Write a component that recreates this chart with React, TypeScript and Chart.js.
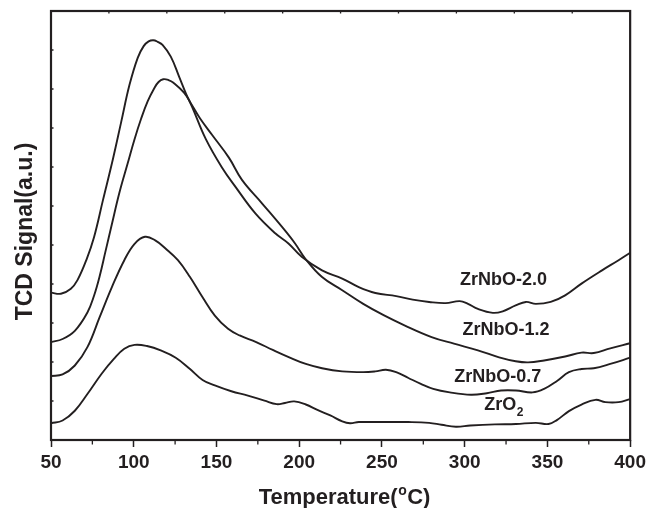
import React, { useEffect, useRef } from 'react';
import { Chart, registerables } from 'chart.js';

Chart.register(...registerables);

const FONT = '"Liberation Sans", Arial, Helvetica, sans-serif';
const INK = '#231f20';

// x-axis range and tick marks (°C)
const xRange = [50, 400];
const minorTicks = [75, 125, 175, 225, 275, 325, 375];
const topTicks = [85, 120, 155, 190, 225, 260, 295, 330, 365];
const sideTicks = [10, 20, 30, 40, 50, 60, 70, 80, 90, 100];

// axis titles
const xTitleMain = 'Temperature(';
const xTitleSup = 'o';
const xTitleEnd = 'C)';
const yTitle = 'TCD Signal(a.u.)';

// ZrNbO-2.0
const zr20T = [50, 56, 62, 66, 71.4, 76, 81.4, 87.4, 92.4, 97.4, 102.4, 106, 109, 111.8, 114.5, 117.4, 122.4, 127.4, 131.5, 135.4, 143.5, 153.4, 161.5, 173.5, 185.5, 193.5, 201.5, 213.8, 226, 236, 246, 258.6, 268.6, 278.5, 288.5, 297, 302, 308, 317, 323, 330.8, 337, 343, 352, 360.7, 370.6, 383, 393, 400];
const zr20S = [37.8, 37.5, 38.8, 41.0, 46.2, 52.0, 61.5, 72.0, 81.5, 91.0, 98.0, 101.0, 102.2, 102.5, 102.1, 101.3, 98.3, 93.2, 88.9, 85.3, 77.2, 69.8, 64.9, 58.1, 53.0, 50.4, 47.0, 43.5, 41.4, 39.2, 37.7, 36.9, 36.0, 35.4, 35.1, 35.6, 34.9, 33.6, 32.6, 33.0, 34.5, 35.4, 34.9, 35.4, 37.1, 40.1, 43.5, 46.1, 48.0];

// ZrNbO-1.2
const zr12T = [50, 57, 64.4, 72, 76, 79.4, 83, 86.6, 91.4, 96.4, 100.4, 104.4, 108.4, 112.4, 115, 117.8, 121, 124, 130.5, 135.4, 140, 147.4, 157.5, 165.4, 177.5, 189.5, 197.5, 203.5, 213.8, 226, 238.7, 251, 263.6, 280, 293.5, 308, 320.8, 330.8, 338.3, 348, 360.7, 370.6, 378, 388, 400];
const zr12S = [25.1, 25.9, 28.0, 32.7, 37.0, 42.0, 48.5, 55.0, 63.5, 71.0, 77.0, 82.3, 86.8, 90.2, 91.8, 92.5, 92.3, 91.6, 89.0, 85.7, 82.5, 78.2, 72.4, 66.7, 60.7, 54.7, 50.4, 46.6, 41.8, 38.4, 34.9, 32.0, 29.4, 26.4, 24.7, 23.0, 21.2, 20.2, 19.9, 20.4, 21.4, 22.4, 22.3, 23.5, 24.8];

// ZrNbO-0.7
const zr07T = [50, 57, 64.4, 72, 79.4, 86.8, 94.3, 100.5, 106.8, 113, 119.2, 126.7, 134, 141.6, 149, 157, 164, 174, 184, 194, 204, 213.8, 226, 238.7, 246, 252.4, 258.6, 266, 273.5, 281, 291, 303.8, 313.4, 322, 331, 341, 348, 356, 363, 370.6, 378, 388, 400];
const zr07S = [16.4, 16.8, 19.1, 23.8, 31.5, 39.2, 46.1, 50.3, 52.1, 51.2, 49.1, 46.1, 41.8, 36.6, 31.9, 28.5, 26.8, 25.1, 23.1, 21.2, 19.5, 18.4, 17.6, 17.4, 17.6, 18.0, 17.4, 15.9, 14.4, 13.1, 12.2, 11.6, 12.0, 12.7, 12.7, 12.2, 13.1, 15.2, 17.4, 18.2, 18.4, 19.5, 21.1];

// ZrO2
const zro2T = [50, 57, 64.4, 72, 80.6, 88, 94.3, 100.5, 108, 116.7, 125.4, 134, 141.6, 149, 159, 169, 179, 186.4, 191.4, 197, 204, 211, 218.8, 226, 230.7, 236, 248.7, 266, 278.5, 286, 294.7, 303.4, 318.3, 331, 343, 350.7, 355.7, 363, 370.6, 379, 385, 393, 400];
const zro2S = [4.3, 5.0, 7.5, 11.8, 17.0, 20.8, 23.4, 24.4, 24.1, 22.9, 21.1, 18.2, 15.4, 14.0, 12.5, 11.4, 10.1, 9.2, 9.5, 9.9, 9.1, 7.7, 6.3, 4.8, 4.3, 4.6, 4.6, 4.6, 4.4, 3.9, 3.4, 3.7, 4.0, 4.1, 4.4, 4.1, 5.1, 7.4, 9.1, 10.3, 9.7, 9.7, 10.5];

// curve labels (anchored in data units)
const labelTexts = ['ZrNbO-2.0', 'ZrNbO-1.2', 'ZrNbO-0.7', 'ZrO'];
const labelSubs = ['', '', '', '2'];
const labelX = [323.5, 325, 320, 321.5];
const labelY = [40.9, 28.1, 16.2, 8.9];

const toPoints = (t: number[], s: number[]) => t.map((v, i) => ({ x: v, y: s[i] }));

const decor = {
  id: 'decor',
  afterDatasetsDraw(chart: any) {
    const { ctx, chartArea: a, scales } = chart;
    const x = scales.x;
    const y = scales.y;
    ctx.save();
    ctx.strokeStyle = INK;
    ctx.lineWidth = 1.3;
    ctx.beginPath();
    for (const v of minorTicks) {
      const px = x.getPixelForValue(v);
      ctx.moveTo(px, a.bottom);
      ctx.lineTo(px, a.bottom + 4.5);
    }
    for (const v of topTicks) {
      const px = x.getPixelForValue(v);
      ctx.moveTo(px, a.top);
      ctx.lineTo(px, a.top + 2.5);
    }
    for (const v of sideTicks) {
      const py = y.getPixelForValue(v);
      ctx.moveTo(a.left, py);
      ctx.lineTo(a.left + 2.5, py);
    }
    ctx.stroke();
    ctx.lineWidth = 2.2;
    ctx.strokeRect(a.left, a.top, a.right - a.left, a.bottom - a.top);

    ctx.fillStyle = INK;
    // curve labels
    ctx.textBaseline = 'middle';
    labelTexts.forEach((t, i) => {
      const cx = x.getPixelForValue(labelX[i]);
      const cy = y.getPixelForValue(labelY[i]);
      ctx.font = `bold 18px ${FONT}`;
      ctx.textAlign = 'center';
      ctx.fillText(t, cx, cy);
      if (labelSubs[i]) {
        const w = ctx.measureText(t).width;
        ctx.font = `bold 12px ${FONT}`;
        ctx.textAlign = 'left';
        ctx.fillText(labelSubs[i], cx + w / 2 + 0.5, cy + 7);
      }
    });

    // x-axis title with superscript degree "o"
    ctx.textBaseline = 'alphabetic';
    ctx.textAlign = 'left';
    ctx.font = `bold 22px ${FONT}`;
    const w1 = ctx.measureText(xTitleMain).width;
    const w3 = ctx.measureText(xTitleEnd).width;
    ctx.font = `bold 14px ${FONT}`;
    const w2 = ctx.measureText(xTitleSup).width;
    const total = w1 + w2 + w3 + 1;
    const base = 503.5;
    let sx = (a.left + a.right) / 2 + 4 - total / 2;
    ctx.font = `bold 22px ${FONT}`;
    ctx.fillText(xTitleMain, sx, base);
    sx += w1;
    ctx.font = `bold 14px ${FONT}`;
    ctx.fillText(xTitleSup, sx + 0.5, base - 9);
    sx += w2 + 1;
    ctx.font = `bold 22px ${FONT}`;
    ctx.fillText(xTitleEnd, sx, base);

    // y-axis title
    ctx.save();
    ctx.translate(26, (a.top + a.bottom) / 2 + 6);
    ctx.rotate(-Math.PI / 2);
    ctx.textAlign = 'center';
    ctx.textBaseline = 'middle';
    ctx.font = `bold 23px ${FONT}`;
    ctx.fillText(yTitle, 0, 0);
    ctx.restore();

    ctx.restore();
  },
};

export default function App() {
  const ref = useRef<HTMLCanvasElement>(null);
  useEffect(() => {
    const series = [
      { t: zr20T, s: zr20S, name: 'ZrNbO-2.0' },
      { t: zr12T, s: zr12S, name: 'ZrNbO-1.2' },
      { t: zr07T, s: zr07S, name: 'ZrNbO-0.7' },
      { t: zro2T, s: zro2S, name: 'ZrO2' },
    ];
    const chart = new Chart(ref.current as HTMLCanvasElement, {
      type: 'line',
      data: {
        datasets: series.map((d) => ({
          label: d.name,
          data: toPoints(d.t, d.s),
          borderColor: INK,
          borderWidth: 1.9,
          pointRadius: 0,
          fill: false,
          tension: 0.4,
        })),
      },
      options: {
        responsive: false,
        animation: false,
        layout: { padding: { top: 11, right: 16, left: 0, bottom: 0 } },
        plugins: { legend: { display: false }, tooltip: { enabled: false } },
        scales: {
          x: {
            type: 'linear',
            min: xRange[0],
            max: xRange[1],
            ticks: {
              stepSize: 50,
              autoSkip: false,
              maxRotation: 0,
              padding: 4,
              color: INK,
              font: { family: FONT, size: 19, weight: 'bold' },
            },
            grid: {
              display: true,
              drawOnChartArea: false,
              drawTicks: true,
              tickLength: 7,
              tickColor: INK,
              tickWidth: 1.5,
            },
            border: { display: false },
            title: { display: false },
            afterFit: (s: any) => {
              s.height = 68;
            },
          },
          y: {
            type: 'linear',
            min: 0,
            max: 110,
            ticks: { display: false },
            grid: { display: false },
            border: { display: false },
            title: { display: false },
            afterFit: (s: any) => {
              s.width = 51;
            },
          },
        },
      },
      plugins: [decor],
    } as any);
    return () => chart.destroy();
  }, []);
  return (
    <div style={{ position: 'absolute', left: 0, top: 0, width: 650, height: 508, background: '#fff' }}>
      <canvas ref={ref} width={650} height={508} style={{ display: 'block', width: 650, height: 508 }} />
    </div>
  );
}
